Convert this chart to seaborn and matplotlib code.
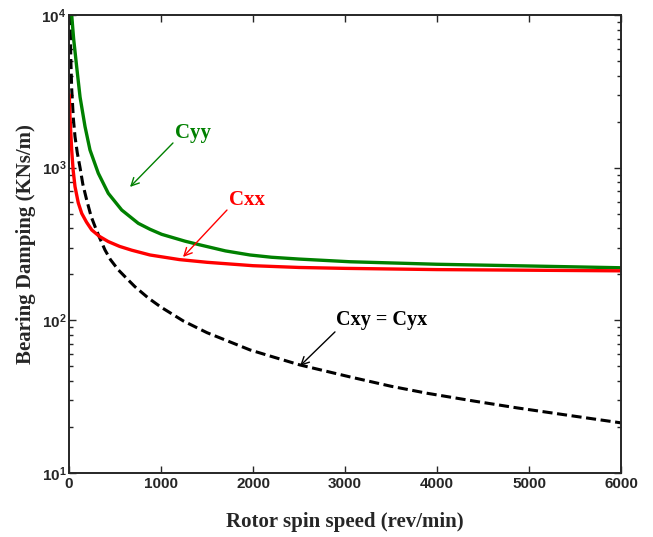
import numpy as np
import pandas as pd
import seaborn as sns
import matplotlib
matplotlib.use("Agg")
import matplotlib.pyplot as plt
from matplotlib.ticker import LogLocator, NullFormatter, FixedLocator, FixedFormatter

sns.set_style("ticks")
plt.rcParams['font.family'] = ['Liberation Sans', 'DejaVu Sans']
plt.rcParams['mathtext.fontset'] = 'custom'
plt.rcParams['mathtext.rm'] = 'Liberation Sans:bold'
plt.rcParams['mathtext.bf'] = 'Liberation Sans:bold'

# values (rev/min -> KNs/m)
rpm_xx = [3, 10, 20, 29, 45, 65, 100, 138, 190, 247, 330, 427, 550, 682, 880, 1200,
          1500, 2000, 2500, 3000, 4000, 5000, 6000]
c_xx = [3000, 2200, 1650, 1306, 960, 752, 590, 502, 440, 391, 355, 328, 305, 288, 268,
        250, 240, 228, 222, 219, 215, 213, 211]

rpm_yy = [29, 50, 83, 120, 174, 228, 318, 427, 573, 753, 880, 1007, 1261, 1424, 1700,
          1967, 2200, 2500, 3054, 4000, 5000, 6000]
c_yy = [10000, 7000, 4590, 2900, 1858, 1306, 920, 679, 528, 432, 395, 366, 330, 312, 285,
        268, 259, 252, 242, 233, 227, 221]

rpm_xy = [11, 20, 29, 47, 65, 90, 120, 150, 192, 240, 283, 330, 391, 450, 536, 620, 717,
          862, 1000, 1243, 1500, 1967, 2221, 2511, 3054, 3500, 3891, 4400, 4870, 5400, 6000]
c_xy = [10000, 5000, 3300, 2100, 1600, 1250, 1000, 780, 614, 480, 411, 350, 289, 250, 214,
        190, 166, 140, 122, 99, 83, 64, 57.5, 51, 42.6, 37, 33.3, 29.6, 26.7, 24, 21.3]

x_ticks = [0, 1000, 2000, 3000, 4000, 5000, 6000]
y_ticks = [10, 100, 1000, 10000]
y_tick_labels = [r'$\mathbf{10^{1}}$', r'$\mathbf{10^{2}}$', r'$\mathbf{10^{3}}$', r'$\mathbf{10^{4}}$']

df_xx = pd.DataFrame({'speed': rpm_xx, 'damping': c_xx})
df_yy = pd.DataFrame({'speed': rpm_yy, 'damping': c_yy})
df_xy = pd.DataFrame({'speed': rpm_xy, 'damping': c_xy})

fig = plt.figure(figsize=(6.53, 5.37), dpi=100)
ax = fig.add_axes([0.1057, 0.1192, 0.8453, 0.8528])

sns.lineplot(data=df_xy, x='speed', y='damping', color='black', lw=2.2, ax=ax,
             linestyle=(0, (3.3, 1.5)))
sns.lineplot(data=df_yy, x='speed', y='damping', color='#008000', lw=2.4, ax=ax)
sns.lineplot(data=df_xx, x='speed', y='damping', color='#ff0000', lw=2.4, ax=ax)

ax.set_yscale('log')
ax.set_xlim(0, 6000)
ax.set_ylim(10, 10000)

ax.xaxis.set_major_locator(FixedLocator(x_ticks))
ax.set_xticklabels([str(t) for t in x_ticks], fontweight='bold', fontsize=11)
ax.yaxis.set_major_locator(FixedLocator(y_ticks))
ax.yaxis.set_major_formatter(FixedFormatter(y_tick_labels))
ax.yaxis.set_minor_locator(LogLocator(base=10, subs=np.arange(2, 10)))
ax.yaxis.set_minor_formatter(NullFormatter())
for lab in ax.get_yticklabels():
    lab.set_fontsize(11)

ax.tick_params(which='both', direction='in', top=True, right=True, width=1.0)
ax.tick_params(which='major', length=5, pad=3)
ax.tick_params(axis='y', which='major', pad=2)
ax.tick_params(which='minor', length=3)
for s in ax.spines.values():
    s.set_linewidth(1.4)

ax.set_xlabel('Rotor spin speed (rev/min)', fontsize=15, fontweight='bold',
              family='Liberation Serif', labelpad=15)
ax.set_ylabel('Bearing Damping (KNs/m)', fontsize=15, fontweight='bold',
              family='Liberation Serif', labelpad=4)

# annotations with arrows
ax.annotate('', xy=(663, 748), xytext=(1130, 1452),
            arrowprops=dict(arrowstyle='->', color='#008000', lw=1.0,
                            shrinkA=0, shrinkB=0, mutation_scale=14))
ax.text(1348, 1687, 'Cyy', color='#008000', fontsize=15, fontweight='bold',
        family='Liberation Serif', ha='center', va='center')

ax.annotate('', xy=(1239, 260), xytext=(1717, 528),
            arrowprops=dict(arrowstyle='->', color='#ff0000', lw=1.0,
                            shrinkA=0, shrinkB=0, mutation_scale=14))
ax.text(1935, 614, 'Cxx', color='#ff0000', fontsize=15, fontweight='bold',
        family='Liberation Serif', ha='center', va='center')

ax.annotate('', xy=(2511, 50.3), xytext=(2891, 84),
            arrowprops=dict(arrowstyle='->', color='black', lw=1.0,
                            shrinkA=0, shrinkB=0, mutation_scale=14))
ax.text(3402, 100.7, 'Cxy = Cyx', color='black', fontsize=14.5, fontweight='bold',
        family='Liberation Serif', ha='center', va='center')

plt.savefig('out.png', dpi=100)
